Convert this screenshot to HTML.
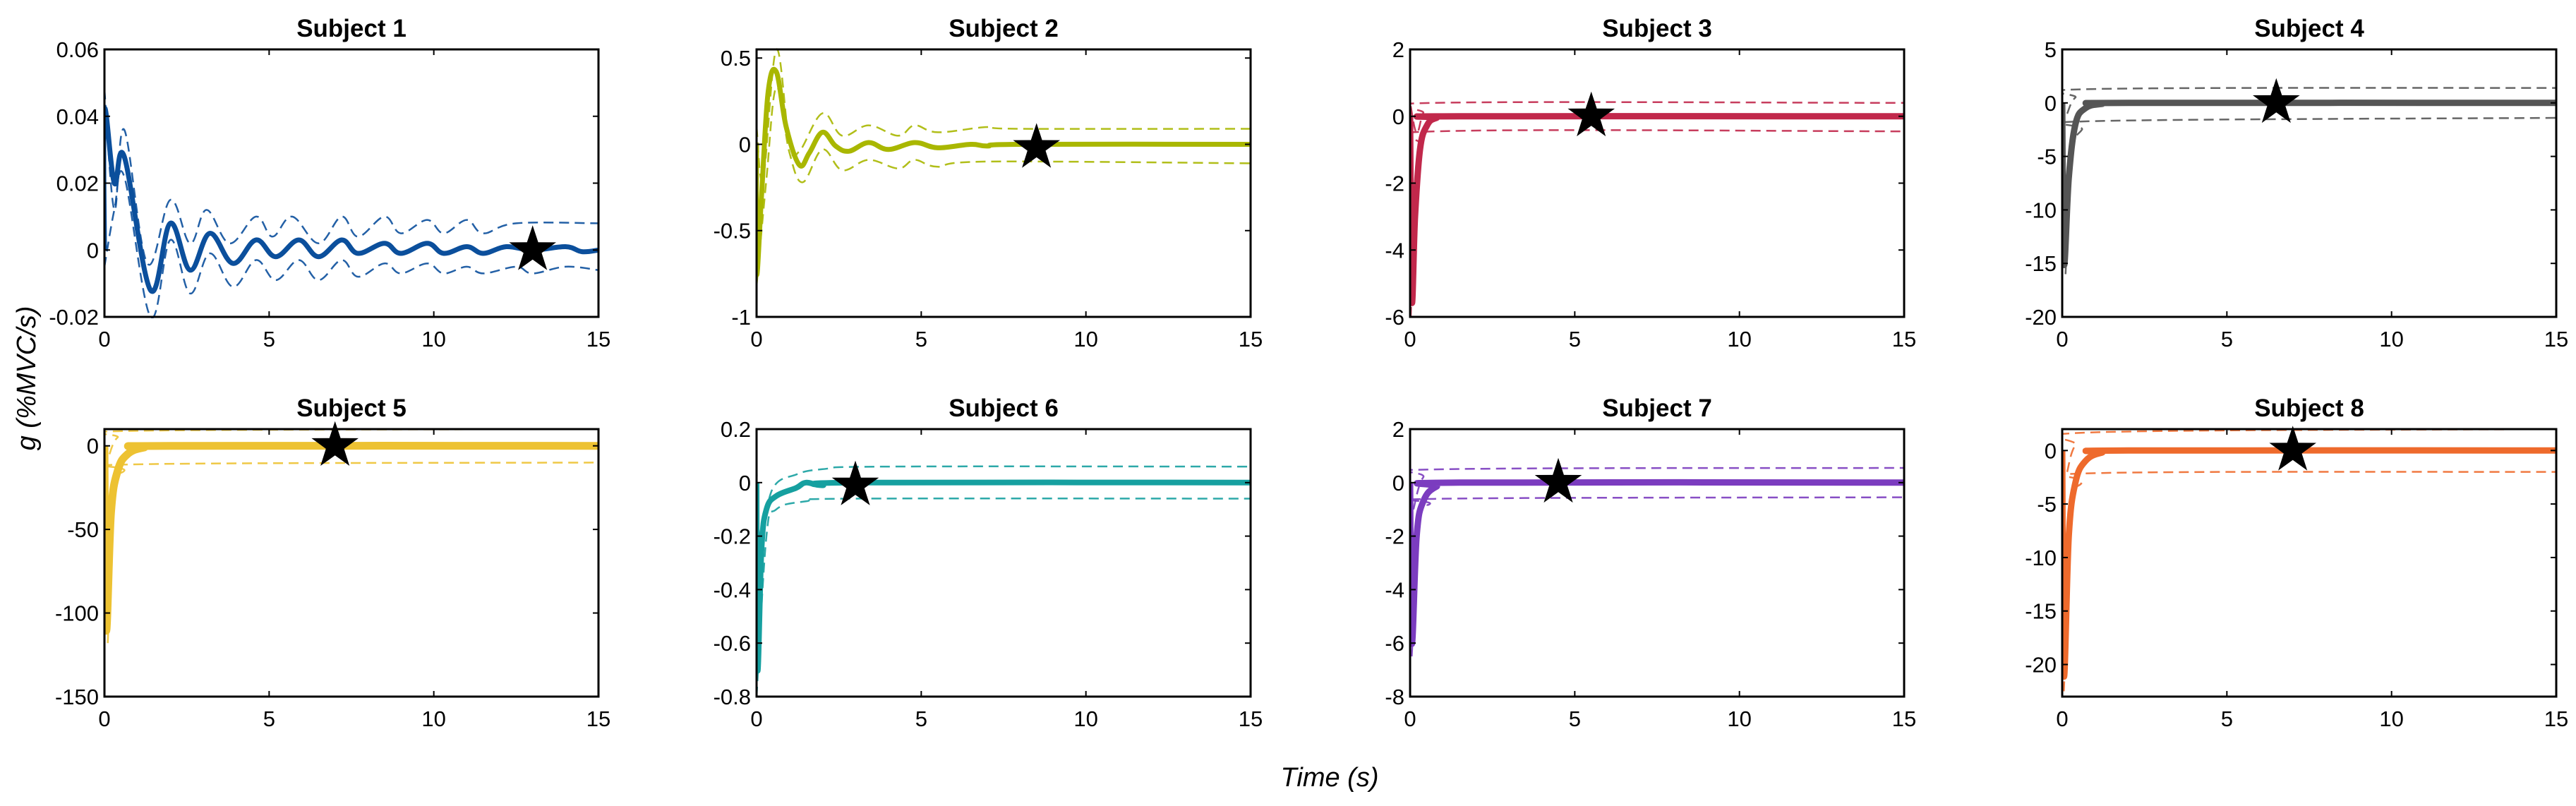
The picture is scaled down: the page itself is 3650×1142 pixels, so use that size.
<!DOCTYPE html>
<html><head><meta charset="utf-8"><style>
html,body{margin:0;padding:0;background:#fff;}
svg{display:block;font-family:"Liberation Sans",Arial,sans-serif;}
</style></head><body>
<svg id="fig" width="3650" height="1142" viewBox="0 0 3650 1142">
<text x="1884" y="1114" font-size="38" font-style="italic" text-anchor="middle">Time (s)</text>
<text transform="translate(50,536) rotate(-90)" font-size="38" font-style="italic" text-anchor="middle">g (%MVC/s)</text>
</svg>
<script>
// ---- data ----
const xTicks = [0, 5, 10, 15];
const titles = ["Subject 1","Subject 2","Subject 3","Subject 4","Subject 5","Subject 6","Subject 7","Subject 8"];
const yLims = [[-0.02,0.06],[-1,0.55],[-6,2],[-20,5],[-150,10],[-0.8,0.2],[-8,2],[-23,2]];
const yTickVals = [[0.06,0.04,0.02,0,-0.02],[0.5,0,-0.5,-1],[2,0,-2,-4,-6],[5,0,-5,-10,-15,-20],[0,-50,-100,-150],[0.2,0,-0.2,-0.4,-0.6,-0.8],[2,0,-2,-4,-6,-8],[0,-5,-10,-15,-20]];
const yTickLabels = [["0.06","0.04","0.02","0","-0.02"],["0.5","0","-0.5","-1"],["2","0","-2","-4","-6"],["5","0","-5","-10","-15","-20"],["0","-50","-100","-150"],["0.2","0","-0.2","-0.4","-0.6","-0.8"],["2","0","-2","-4","-6","-8"],["0","-5","-10","-15","-20"]];
const colors = ["#0b4f9c","#a9b700","#c1284b","#555555","#edc232","#16a0a0","#7b3cbf","#ee6a2c"];
const starX = [13, 8.5, 5.5, 6.5, 7, 3, 4.5, 7];
const starY = [0, -0.02, 0, 0, 0, -0.01, 0, 0];

const s1Mean = [[0,0],[0,0.042],[0.3,0.02],[0.6,0.028],[1.4,-0.012],[2.0,0.008],[2.6,-0.006],[3.2,0.005],[3.9,-0.004],[4.6,0.003],[5.2,-0.002],[5.9,0.003],[6.5,-0.002],[7.2,0.003],[7.7,-0.001],[8.5,0.002],[9.0,-0.001],[9.8,0.002],[10.3,-0.001],[11,0.001],[11.5,-0.001],[12.2,0.001],[13,0],[14,0.001],[14.5,-0.0005],[15,0]];
const s1Up = [[0,0.048],[0.3,0.012],[0.6,0.036],[1.3,-0.004],[2.0,0.015],[2.6,0.002],[3.1,0.012],[3.8,0.002],[4.6,0.01],[5.1,0.004],[5.7,0.01],[6.5,0.002],[7.2,0.01],[7.7,0.004],[8.5,0.01],[9.0,0.005],[9.8,0.009],[10.3,0.005],[11,0.009],[11.5,0.005],[12.5,0.008],[15,0.008]];
const s1Lo = [[0,-0.005],[0.3,0.012],[0.6,0.022],[1.4,-0.02],[2.0,0.003],[2.6,-0.013],[3.2,-0.001],[3.9,-0.011],[4.6,-0.003],[5.2,-0.009],[5.9,-0.003],[6.5,-0.009],[7.2,-0.003],[7.7,-0.008],[8.5,-0.004],[9.0,-0.007],[9.8,-0.004],[10.3,-0.007],[11,-0.005],[11.5,-0.007],[12.5,-0.005],[13,-0.007],[14,-0.005],[15,-0.006]];
const s2Mean = [[0,0],[0,-0.75],[0.15,-0.3],[0.35,0.3],[0.6,0.42],[0.9,0.1],[1.3,-0.12],[1.6,-0.05],[2.0,0.07],[2.4,-0.01],[2.8,-0.04],[3.4,0.01],[4.0,-0.03],[4.8,0.01],[5.5,-0.02],[6.5,0],[7,-0.01],[8,0],[15,0]];
const s2Up = [[0,0.1],[0.2,-0.2],[0.6,0.55],[1.0,0.0],[1.3,-0.04],[2.0,0.18],[2.6,0.05],[3.4,0.11],[4.3,0.05],[4.8,0.11],[5.5,0.07],[7,0.1],[8,0.09],[15,0.09]];
const s2Lo = [[0,-0.82],[0.3,-0.2],[0.6,0.33],[1.0,-0.05],[1.4,-0.22],[2.0,-0.03],[2.6,-0.15],[3.4,-0.09],[4.3,-0.14],[4.8,-0.09],[5.5,-0.13],[7,-0.1],[15,-0.11]];
const s3Mean = [[0,0],[0.05,-5.5],[0.15,-3],[0.3,-1],[0.5,-0.3],[0.8,-0.05],[1.5,0],[15,0]];
const s3Up = [[0.02,0.3],[0.2,-0.5],[0.4,0.1],[0.7,0.4],[15,0.4]];
const s3Lo = [[0.02,-6],[0.15,-2.5],[0.35,-0.9],[0.8,-0.45],[15,-0.45]];
const s4Mean = [[0,0],[0.05,-15],[0.2,-7],[0.4,-2],[0.7,-0.5],[1.2,-0.1],[2,0],[15,0]];
const s4Up = [[0.15,-1],[0.4,0.5],[1,1.3],[15,1.4]];
const s4Lo = [[0.1,-16],[0.3,-5],[0.6,-2.5],[1,-1.7],[15,-1.4]];
const s5Mean = [[0,0],[0.05,-110],[0.2,-40],[0.4,-15],[0.7,-5],[1.2,-1],[2,0],[15,0]];
const s5Up = [[0.15,-5],[0.4,5],[1,9],[15,10]];
const s5Lo = [[0.1,-118],[0.3,-30],[0.6,-15],[1.2,-11],[15,-10]];
const s6Mean = [[0,0],[0.03,-0.7],[0.15,-0.25],[0.3,-0.1],[0.6,-0.05],[1.2,-0.02],[1.5,0],[2,-0.01],[3,0],[15,0]];
const s6Up = [[0,0.06],[0.1,-0.2],[0.5,-0.02],[1.2,0.03],[2,0.05],[4,0.06],[15,0.06]];
const s6Lo = [[0,-0.8],[0.3,-0.2],[0.6,-0.1],[1.5,-0.07],[3,-0.06],[15,-0.06]];
const s7Mean = [[0,0],[0.05,-6],[0.2,-2],[0.4,-0.7],[0.8,-0.15],[1.5,0],[15,0]];
const s7Up = [[0.1,-1],[0.4,0.2],[1,0.5],[15,0.55]];
const s7Lo = [[0.05,-6.5],[0.3,-1.5],[0.6,-0.8],[1.2,-0.6],[15,-0.55]];
const s8Mean = [[0,0],[0.05,-21],[0.2,-8],[0.4,-3],[0.7,-1],[1.2,-0.2],[2,0],[15,0]];
const s8Up = [[0.15,-2],[0.4,0.5],[1,1.7],[15,2]];
const s8Lo = [[0.05,-22.5],[0.3,-6],[0.6,-3],[1.2,-2.1],[15,-2]];

const means = [s1Mean,s2Mean,s3Mean,s4Mean,s5Mean,s6Mean,s7Mean,s8Mean];
const ups = [s1Up,s2Up,s3Up,s4Up,s5Up,s6Up,s7Up,s8Up];
const los = [s1Lo,s2Lo,s3Lo,s4Lo,s5Lo,s6Lo,s7Lo,s8Lo];
const meanWidth = [7, 7, 9, 9, 11, 8, 9, 9];

// ---- layout ----
const NS = "http://www.w3.org/2000/svg";
const svg = document.getElementById("fig");
const colLeft = [148, 1072, 1998, 2922];
const rowTop = [70, 608];
const W = 700, H = 379;

function mk(tag, attrs, parent){
  const e = document.createElementNS(NS, tag);
  for (const k in attrs) e.setAttribute(k, attrs[k]);
  (parent || svg).appendChild(e);
  return e;
}
function smoothPath(pts, sx, sy){
  const P = pts.map(p => [sx(p[0]), sy(p[1])]);
  let d = "M" + P[0][0].toFixed(1) + "," + P[0][1].toFixed(1);
  for (let i = 0; i < P.length - 1; i++){
    const p0 = P[Math.max(0,i-1)], p1 = P[i], p2 = P[i+1], p3 = P[Math.min(P.length-1,i+2)];
    const t = 0.18;
    const c1 = [p1[0] + (p2[0]-p0[0])*t, p1[1] + (p2[1]-p0[1])*t];
    const c2 = [p2[0] - (p3[0]-p1[0])*t, p2[1] - (p3[1]-p1[1])*t];
    d += " C" + c1[0].toFixed(1)+","+c1[1].toFixed(1)+" "+c2[0].toFixed(1)+","+c2[1].toFixed(1)+" "+p2[0].toFixed(1)+","+p2[1].toFixed(1);
  }
  return d;
}

for (let k = 0; k < 8; k++){
  const L = colLeft[k % 4], T = rowTop[Math.floor(k / 4)];
  const [y0, y1] = yLims[k];
  const sx = v => L + (v - 0) / 15 * W;
  const sy = v => T + H - (v - y0) / (y1 - y0) * H;
  const g = mk("g", {});
  
  
  const clipId = "clip" + k;
  const cp = mk("clipPath", {id: clipId}, g);
  mk("rect", {x: L, y: T - 2, width: W, height: H + 4}, cp);

  const title = mk("text", {x: L + W/2, y: T - 18, "font-size": 35, "font-weight": "bold", "text-anchor": "middle"}, g);
  title.textContent = titles[k];
  
  

  const plot = mk("g", {"clip-path": "url(#" + clipId + ")"}, g);
  
  
  [ups[k], los[k]].forEach((arr, j) => {
    const p = mk("path", {d: smoothPath(arr, sx, sy), fill: "none", stroke: colors[k], "stroke-width": 2.5, "stroke-dasharray": "14 8", opacity: 0.9}, plot);
    
    
  });
  const m = mk("path", {d: smoothPath(means[k], sx, sy), fill: "none", stroke: colors[k], "stroke-width": meanWidth[k], "stroke-linejoin": "round"}, plot);
  
  

  const box = mk("rect", {x: L, y: T, width: W, height: H, fill: "none", stroke: "#000", "stroke-width": 3}, g);
  
  

  xTicks.forEach(v => {
    const x = sx(v);
    mk("line", {x1: x, y1: T + H, x2: x, y2: T + H - 8, stroke: "#000", "stroke-width": 2}, g);
    mk("line", {x1: x, y1: T, x2: x, y2: T + 8, stroke: "#000", "stroke-width": 2}, g);
    const t = mk("text", {x: x, y: T + H + 42, "font-size": 31, "text-anchor": "middle"}, g);
    t.textContent = String(v);
    
    
  });
  yTickVals[k].forEach((v, i) => {
    const y = sy(v);
    mk("line", {x1: L, y1: y, x2: L + 8, y2: y, stroke: "#000", "stroke-width": 2}, g);
    mk("line", {x1: L + W, y1: y, x2: L + W - 8, y2: y, stroke: "#000", "stroke-width": 2}, g);
    const t = mk("text", {x: L - 8, y: y + 11, "font-size": 31, "text-anchor": "end"}, g);
    t.textContent = yTickLabels[k][i];
    
    
  });

  const cx = sx(starX[k]), cy = sy(starY[k]);
  let pts = [];
  for (let i = 0; i < 10; i++){
    const r = i % 2 === 0 ? 35 : 13.5;
    const a = -Math.PI/2 + i * Math.PI / 5;
    pts.push((cx + r*Math.cos(a)).toFixed(1) + "," + (cy + r*Math.sin(a)).toFixed(1));
  }
  const st = mk("polygon", {points: pts.join(" "), fill: "#000"}, g);
  
  
}
</script>
</body></html>
